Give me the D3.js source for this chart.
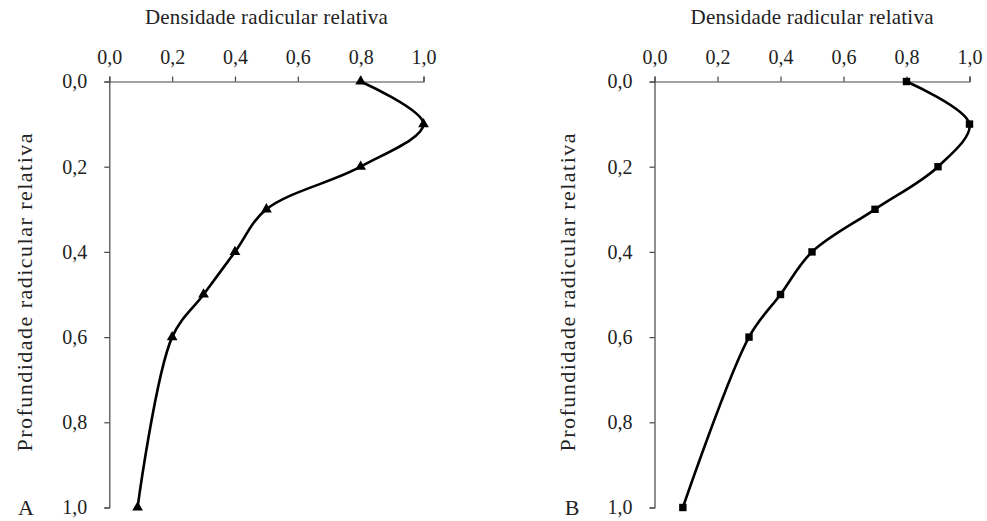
<!DOCTYPE html>
<html><head><meta charset="utf-8">
<script src="https://cdn.jsdelivr.net/npm/d3@7"></script>
<style>body{margin:0;background:#fff}svg{display:block}text{font-family:"Liberation Serif","DejaVu Serif",serif;fill:#222}</style>
</head><body><svg id="c" width="987" height="521"></svg>
<script>
const depth = [0.0, 0.1, 0.2, 0.3, 0.4, 0.5, 0.6, 1.0];
const densityA = [0.8, 1.0, 0.8, 0.5, 0.4, 0.3, 0.2, 0.09];
const densityB = [0.8, 1.0, 0.9, 0.7, 0.5, 0.4, 0.3, 0.09];
const ticks = [0, 0.2, 0.4, 0.6, 0.8, 1.0];
const xTitle = "Densidade radicular relativa";
const yTitle = "Profundidade radicular relativa";
const fmt = d => d3.format(".1f")(d).replace(".", ",");

const svg = d3.select("#c");
const panels = [
  {label: "A", vals: densityA, x0: 109.3, x1: 423.5, marker: d3.symbolTriangle, ylabX: 32, letterX: 26},
  {label: "B", vals: densityB, x0: 654.5, x1: 969.5, marker: d3.symbolSquare, ylabX: 575, letterX: 572}
];
const yTop = 81.5, yBot = 507.5;

panels.forEach(p => {
  const x = d3.scaleLinear().domain([0, 1]).range([p.x0, p.x1]);
  const y = d3.scaleLinear().domain([0, 1]).range([yTop, yBot]);
  const g = svg.append("g");
  const xa = g.append("g").attr("transform", `translate(0,${yTop})`)
    .call(d3.axisTop(x).tickValues(ticks).tickFormat(fmt).tickSize(5).tickPadding(13));
  const ya = g.append("g").attr("transform", `translate(${p.x0},0)`)
    .call(d3.axisLeft(y).tickValues(ticks).tickFormat(fmt).tickSize(5).tickPadding(17));
  [xa, ya].forEach(a => {
    a.select(".domain").attr("stroke", "#444").attr("stroke-width", 1.2);
    a.selectAll(".tick line").attr("stroke", "#444").attr("stroke-width", 1.2);
    a.selectAll("text").style("font-family", '"Liberation Serif",serif').style("font-size", "20px").attr("fill", "#222");
  });
  g.append("text").attr("x", (p.x0 + p.x1) / 2).attr("y", 24).attr("text-anchor", "middle")
    .attr("textLength", 243).attr("lengthAdjust", "spacing")
    .style("font-size", "21px").text(xTitle);
  g.append("text").attr("transform", `translate(${p.ylabX},${(yTop + yBot) / 2 - 2}) rotate(-90)`)
    .attr("text-anchor", "middle").attr("textLength", 318).attr("lengthAdjust", "spacing")
    .style("font-size", "22px").text(yTitle);
  g.append("text").attr("x", p.letterX).attr("y", 515).attr("text-anchor", "middle")
    .style("font-size", "22px").text(p.label);

  const pts = depth.map((d, i) => [x(p.vals[i]), y(d)]);
  g.append("path").attr("d", d3.line().curve(d3.curveCatmullRom.alpha(0.5))(pts))
    .attr("fill", "none").attr("stroke", "#000").attr("stroke-width", 2.6);
  g.selectAll(".m").data(pts).enter().append("path")
    .attr("transform", d => `translate(${d[0]},${d[1]})`)
    .attr("d", d3.symbol().type(p.marker).size(p.label === "A" ? 50 : 55))
    .attr("fill", "#000");
});
</script></body></html>
